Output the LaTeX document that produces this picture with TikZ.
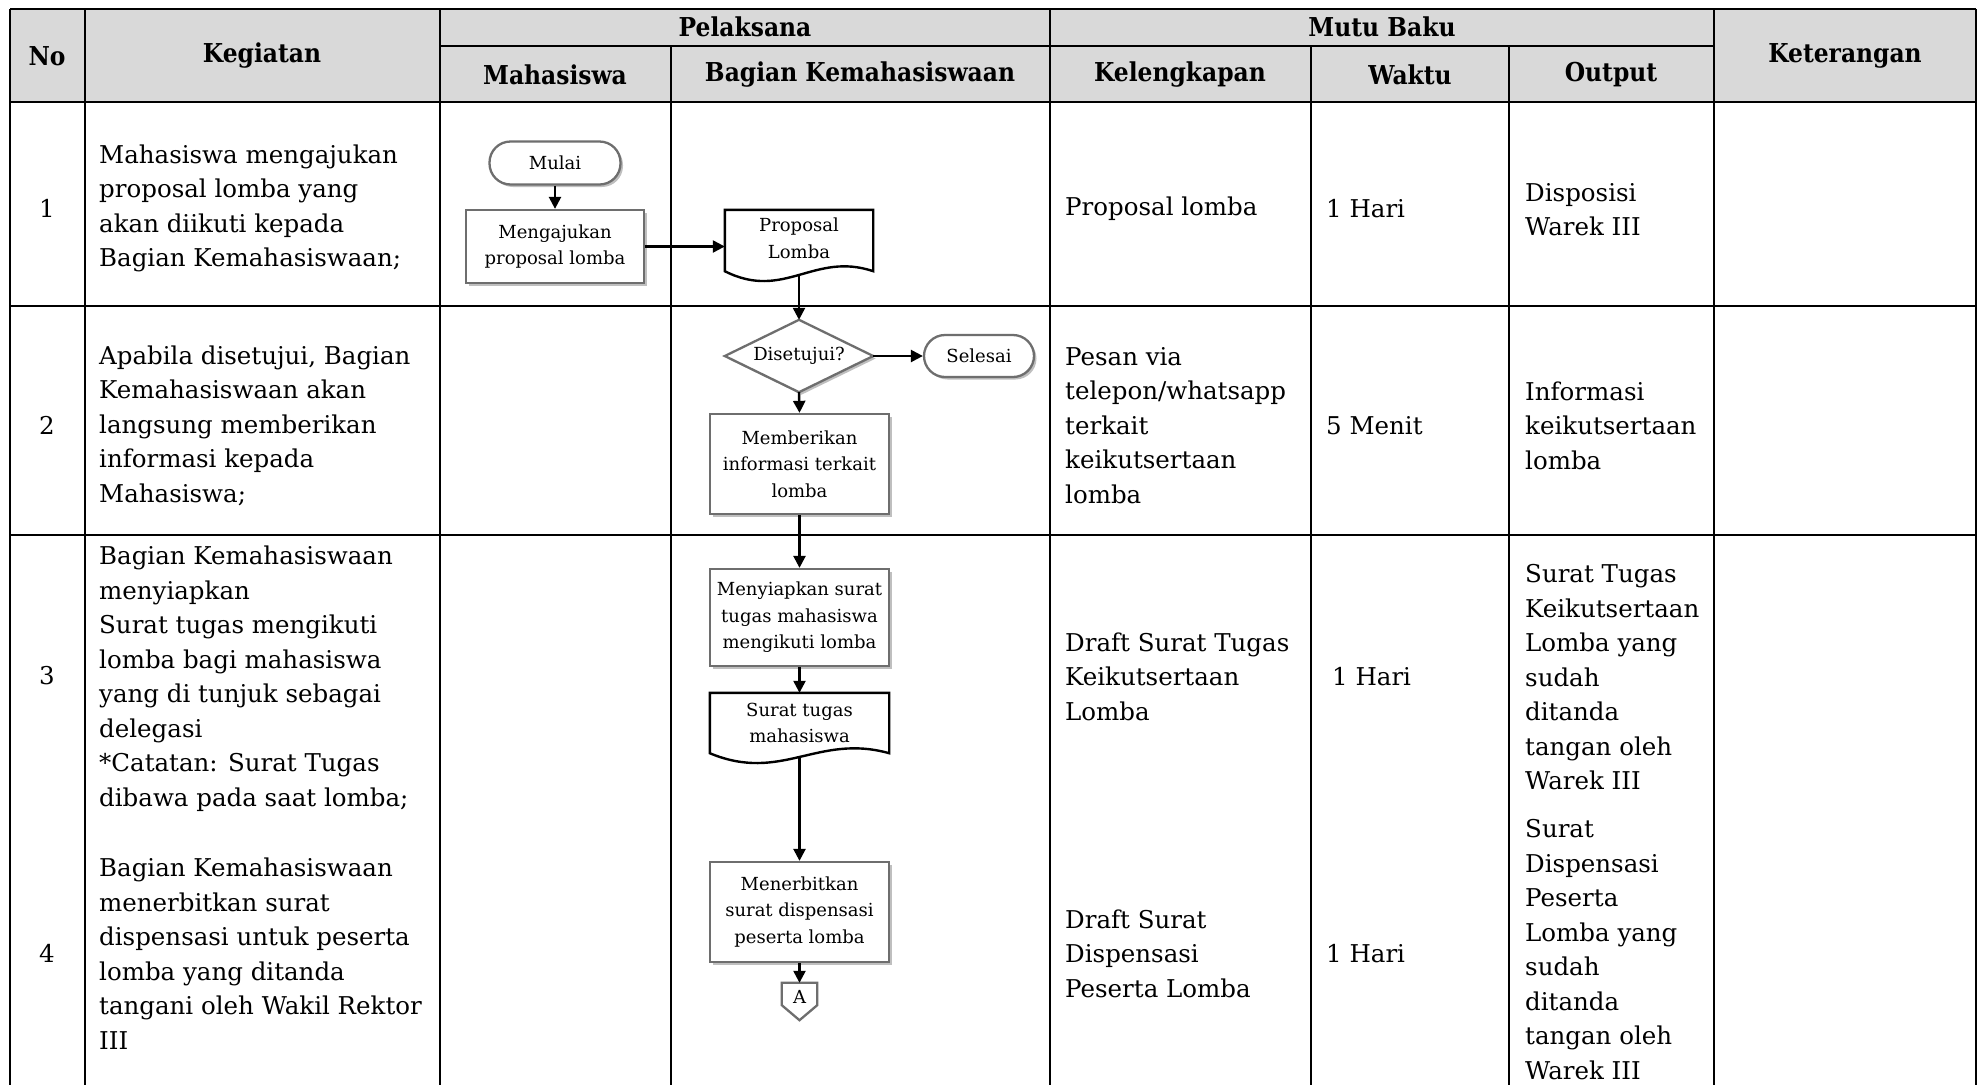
\documentclass[tikz,border=0pt]{standalone}
\usepackage{fontspec}
\setmainfont{DejaVu Serif}
\newfontfamily\hdrface{DejaVu Serif}[FakeStretch=0.9]
\usetikzlibrary{arrows.meta,shadows,calc}

\definecolor{hdrgray}{HTML}{D9D9D9}
\definecolor{boxgray}{HTML}{6E6E6E}

\newcommand\tblfont{\fontsize{24.5}{34.5}\selectfont}
\newcommand\hdrfont{\hdrface\fontsize{26}{30}\selectfont\bfseries}
\newcommand\flowfont{\fontsize{18}{26.5}\selectfont}

% document symbol drawn round a rectangular text node
\newcommand\docshape[1]{%
  \draw[docline] (#1.north west) -- (#1.south west)
    .. controls ($(#1.south west)!0.4!(#1.south east)+(0,30)$)
             and ($(#1.south west)!0.6!(#1.south east)+(0,-20)$) .. (#1.south east)
    -- (#1.north east) -- cycle;}

\tikzset{
  grid/.style={line width=2.6pt,black},
  cell/.style={inner sep=0pt,align=left,font=\tblfont,anchor=west,yshift=-2.5pt},
  num/.style={inner sep=0pt,font=\tblfont,yshift=-2pt},
  hdr/.style={inner sep=0pt,font=\hdrfont},
  softshadow/.style={drop shadow={shadow xshift=2.5pt,shadow yshift=-2.5pt,fill=black,opacity=0.25}},
  procbox/.style={draw=boxgray,line width=2.3pt,fill=white,softshadow,align=center,
    font=\flowfont,inner sep=0pt},
  term/.style={procbox,rounded corners=21pt},
  textonly/.style={inner sep=0pt,align=center,font=\flowfont},
  docline/.style={draw=black,line width=2.4pt,fill=white},
  arr/.style={line width=2.4pt,-{Triangle[length=12pt,width=12pt]}},
}

\begin{document}
\begin{tikzpicture}[x=1pt,y=-1pt]
\useasboundingbox (0,0) rectangle (1984,1085);
\fill[white] (0,0) rectangle (1984,1085);

% header band
\fill[hdrgray] (10,9) rectangle (1976,102);

% table rules
\draw[grid] (10,9) -- (1976,9);
\draw[grid] (440,46) -- (1714,46);
\draw[grid] (10,102) -- (1976,102);
\draw[grid] (10,306) -- (1976,306);
\draw[grid] (10,535) -- (1976,535);
\foreach \x in {10,85,440,1050,1714,1976} \draw[grid] (\x,9) -- (\x,1085);
\foreach \x in {671,1311,1509} \draw[grid] (\x,46) -- (\x,1085);

% header labels
\node[hdr] (hNo) at (47,56) {No};
\node[hdr] (hKeg) at (262,56) {Kegiatan};
\node[hdr] (hPel) at (745,27) {Pelaksana};
\node[hdr] (hMhs) at (555,75) {Mahasiswa};
\node[hdr] (hBag) at (860,75) {Bagian Kemahasiswaan};
\node[hdr] (hMutu) at (1382,27) {Mutu Baku};
\node[hdr] (hKel) at (1180,75) {Kelengkapan};
\node[hdr] (hWak) at (1410,75) {Waktu};
\node[hdr] (hOut) at (1611,75) {Output};
\node[hdr] (hKet) at (1845,56) {Keterangan};

% row numbers
\node[num] (n1) at (47,206) {1};
\node[num] (n2) at (47,423) {2};
\node[num] (n3) at (47,674) {3};
\node[num] (n4) at (47,951) {4};

% activities
\node[cell] (k1) at (99,206) {Mahasiswa mengajukan\\proposal lomba yang\\akan diikuti kepada\\Bagian Kemahasiswaan;};
\node[cell] (k2) at (99,423) {Apabila disetujui, Bagian\\Kemahasiswaan akan\\langsung memberikan\\informasi kepada\\Mahasiswa;};
\node[cell] (k3) at (99,676) {Bagian Kemahasiswaan\\menyiapkan\\Surat tugas mengikuti\\lomba bagi mahasiswa\\yang di tunjuk sebagai\\delegasi\\*Catatan: Surat Tugas\\dibawa pada saat lomba;};
\node[cell] (k4) at (99,951) {Bagian Kemahasiswaan\\menerbitkan surat\\dispensasi untuk peserta\\lomba yang ditanda\\tangani oleh Wakil Rektor\\III};

% kelengkapan
\node[cell] (l1) at (1065,206) {Proposal lomba};
\node[cell] (l2) at (1065,423) {Pesan via\\telepon/whatsapp\\terkait\\keikutsertaan\\lomba};
\node[cell] (l3) at (1065,674) {Draft Surat Tugas\\Keikutsertaan\\Lomba};
\node[cell] (l4) at (1065,951) {Draft Surat\\Dispensasi\\Peserta Lomba};

% waktu
\node[cell] (w1) at (1326,206) {1 Hari};
\node[cell] (w2) at (1326,423) {5 Menit};
\node[cell] (w3) at (1332,674) {1 Hari};
\node[cell] (w4) at (1326,951) {1 Hari};

% output
\node[cell] (o1) at (1525,207) {Disposisi\\Warek III};
\node[cell] (o2) at (1525,423) {Informasi\\keikutsertaan\\lomba};
\node[cell] (o3) at (1525,675) {Surat Tugas\\Keikutsertaan\\Lomba yang\\sudah\\ditanda\\tangan oleh\\Warek III};
\node[cell] (o4) at (1525,947) {Surat\\Dispensasi\\Peserta\\Lomba yang\\sudah\\ditanda\\tangan oleh\\Warek III};

% ---- flowchart ----
\node[term,minimum width=131pt,minimum height=43pt] (mulai) at (555,163) {Mulai};
\node[procbox,minimum width=178pt,minimum height=73pt] (ajukan) at (555,246.5) {Mengajukan\\proposal lomba};

\node[textonly,minimum width=148pt,minimum height=61pt] (prop) at (799,240.5) {};
\docshape{prop}
\node[textonly] (proptext) at ($(prop)+(0,-2)$) {Proposal\\Lomba};
\coordinate (propbot) at ($(prop.south)+(0,3.75)$);

% decision
\node[textonly,minimum width=148pt,minimum height=72pt] (dis) at (799,356) {};
\draw[draw=boxgray,line width=2.3pt,fill=white,softshadow]
  (dis.north) -- (dis.east) -- (dis.south) -- (dis.west) -- cycle;
\node[textonly] (distext) at (dis) {Disetujui?};

\node[term,minimum width=110pt,minimum height=42pt] (selesai) at (979,356) {Selesai};
\node[procbox,minimum width=179pt,minimum height=100pt] (beri) at (799.5,464) {Memberikan\\informasi terkait\\lomba};
\node[procbox,minimum width=179pt,minimum height=97pt] (siap) at (799.5,617.5) {Menyiapkan surat\\tugas mahasiswa\\mengikuti lomba};

\node[textonly,minimum width=179pt,minimum height=60pt] (surat) at (799.5,723) {};
\docshape{surat}
\node[textonly] (surattext) at (surat) {Surat tugas\\mahasiswa};
\coordinate (suratbot) at ($(surat.south)+(0,3.75)$);

\node[procbox,minimum width=179pt,minimum height=100pt] (terbit) at (799.5,912) {Menerbitkan\\surat dispensasi\\peserta lomba};

% off-page connector
\node[textonly,minimum width=35pt,minimum height=22pt] (conA) at (799.5,994) {};
\draw[draw=boxgray,line width=2.3pt,fill=white]
  (conA.north west) -- (conA.north east) -- (conA.south east)
  -- ($(conA.south)+(0,15)$) -- (conA.south west) -- cycle;
\node[textonly] (conAtext) at ($(conA)+(0,3)$) {A};

% connectors
\draw[arr] (mulai) -- (ajukan);
\draw[arr] (ajukan.east) -- (ajukan.east -| prop.west);
\draw[arr] (propbot) -- (dis.north);
\draw[arr] (dis.east) -- (selesai.west);
\draw[arr] (dis.south) -- (beri.north);
\draw[arr] (beri.south) -- (siap.north);
\draw[arr] (siap.south) -- (surat.north);
\draw[arr] (suratbot) -- (terbit.north);
\draw[arr] (terbit.south) -- (conA.north);
\end{tikzpicture}
\end{document}
